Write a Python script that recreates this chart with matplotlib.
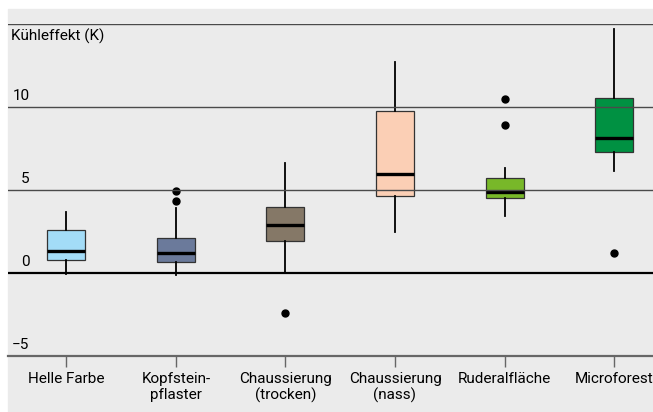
import numpy as np
import matplotlib
matplotlib.use('Agg')
from matplotlib import pyplot as plt
from matplotlib.patches import Rectangle

plt.rcParams['font.family'] = ['Roboto', 'DejaVu Sans']

# Boxplot statistics per surface type (cooling effect in K)
labels = ['Helle Farbe', 'Kopfstein-\npflaster', 'Chaussierung\n(trocken)',
          'Chaussierung\n(nass)', 'Ruderalfläche', 'Microforest']
medians = [1.3, 1.2, 2.87, 5.93, 4.84, 8.13]
q1 = [0.77, 0.63, 1.89, 4.62, 4.48, 7.27]
q3 = [2.6, 2.1, 3.94, 9.72, 5.72, 10.5]
whis_lo = [-0.1, -0.15, 0.0, 2.43, 3.43, 6.13]
whis_hi = [3.67, 3.9, 6.59, 12.67, 6.33, 14.68]
outliers = [[], [4.94, 4.3], [-2.41], [], [10.46, 8.9], [1.2]]
colors = ['#a3dcf7', '#6b7a9b', '#857867', '#fbcfb5', '#78b829', '#009142']
yticks = [-5, 0, 5, 10]
ytick_labels = ['\u22125', '0', '5', '10']

BG = '#ebebeb'
FS = 11

fig = plt.figure(figsize=(6.53, 4.12), dpi=100)
fig.patches.append(Rectangle((8 / 653, 0), 1, 1 - 9 / 412,
                             transform=fig.transFigure, color=BG,
                             zorder=-10))
ax = fig.add_axes([8 / 653, 1 - 355.7 / 412, 1 - 8 / 653,
                   (355.7 - 23.7) / 412])
ax.set_facecolor('none')

stats = []
for i in range(len(labels)):
    stats.append(dict(med=medians[i], q1=q1[i], q3=q3[i],
                      whislo=whis_lo[i], whishi=whis_hi[i],
                      fliers=outliers[i]))

positions = np.arange(1, len(labels) + 1)
bp = ax.bxp(stats, positions=positions, widths=0.347, patch_artist=True,
            showcaps=False,
            boxprops=dict(edgecolor='#333333', linewidth=0.9),
            medianprops=dict(color='black', linewidth=2.4),
            whiskerprops=dict(color='black', linewidth=1.3),
            flierprops=dict(marker='o', markerfacecolor='black',
                            markeredgecolor='black', markersize=5))
for patch, c in zip(bp['boxes'], colors):
    patch.set_facecolor(c)
    patch.set_zorder(2)

# horizontal guides drawn over the boxes
for y in [5, 10, 15]:
    ax.axhline(y, color='#4a4a4a', linewidth=1.0, zorder=3)
ax.axhline(0, color='black', linewidth=1.6, zorder=3)

ax.set_xlim(0.466, 6.356)
ax.set_ylim(-5, 15)

for s in ['top', 'left', 'right']:
    ax.spines[s].set_visible(False)
ax.spines['bottom'].set_color('#666666')
ax.spines['bottom'].set_linewidth(1.6)

ax.set_yticks([])
ax.set_xticks(positions)
ax.set_xticklabels(labels, fontsize=FS, linespacing=1.2)
ax.tick_params(axis='x', length=8, width=1, color='#666666', pad=3.5)

for v, t in zip(yticks, ytick_labels):
    ax.text(0.0333, v + 0.25, t, transform=ax.get_yaxis_transform(),
            ha='right', va='bottom', fontsize=FS)
ax.text(0.004, 14.7, 'Kühleffekt (K)', transform=ax.get_yaxis_transform(),
        ha='left', va='top', fontsize=FS)

fig.savefig('out.png', dpi=100)
